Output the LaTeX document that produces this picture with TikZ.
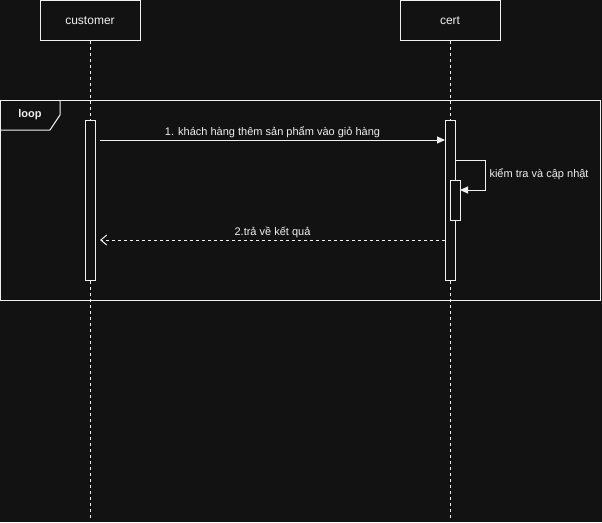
\documentclass[tikz,border=0pt]{standalone}
\usepackage{fontspec}
\setmainfont{Liberation Sans}
\usepackage{tikz}
\usetikzlibrary{positioning,arrows.meta}
\definecolor{bgdark}{HTML}{121212}
\definecolor{ink}{HTML}{F0F0F0}

\begin{document}
\begin{tikzpicture}[x=1pt, y=-1pt, line width=1pt, color=ink,
	head/.style={rectangle, draw, fill=bgdark, minimum width=100pt, minimum height=40pt, inner sep=0pt, outer sep=0pt, font=\fontsize{12}{14}\selectfont},
	bar/.style={rectangle, draw, fill=bgdark, minimum width=10pt, inner sep=0pt, outer sep=0pt},
	lifeline/.style={dash pattern=on 3pt off 3pt},
	msg/.style={-{Triangle[length=8pt,width=7pt]}},
	reply/.style={dash pattern=on 3pt off 3pt, -{Straight Barb[length=6pt,width=10pt]}},
	lbl/.style={font=\fontsize{11}{13}\selectfont, inner sep=2pt}]
	% background and page size
	\fill[bgdark] (0,0) rectangle (602,522);
	\useasboundingbox (0,0) rectangle (602,522);
	
	% lifeline heads
	\node (customer) [head] at (90,20.5) {customer};
	\node (cert) [head, right=260pt of customer] {cert};
	
	\coordinate (custend) at (90,520);
	\coordinate (certend) at (cert.south |- custend);
	\draw[lifeline] (customer.south) -- (custend);
	\draw[lifeline] (cert.south) -- (certend);
	
	% loop frame
	\draw (0.5,100) rectangle (600,300);
	\draw (0.5,130) -- (50,130) -- (60,115) -- (60,100);
	\node (looplbl) [lbl, font=\fontsize{11}{13}\selectfont\bfseries] at (30,115) {loop};
	
	% activation bars
	\node (actcust) [bar, minimum height=160pt, below=79.5pt of customer] {};
	\node (actcert) [bar, minimum height=160pt, below=79.5pt of cert] {};
	\node (actchk) [bar, minimum height=40pt] at (455,200) {};
	
	% messages
	\coordinate (m1a) at (100,140);
	\coordinate (m1b) at (actcert.west |- m1a);
	\path[msg] (m1a) edge node [lbl, above] {1. khách hàng thêm sản phẩm vào giỏ hàng} (m1b);
	
	\coordinate (selfa) at (actcert.east |- 0,160);
	\coordinate (selfturn) at (485,160);
	\coordinate (selfb) at (actchk.east |- 0,190);
	\draw[msg] (selfa) -- (selfturn) |- (selfb);
	\node (selflbl) [lbl, anchor=west] at (487,174) {kiểm tra và cập nhật};
	
	\coordinate (m2a) at (actcert.west |- 0,240);
	\coordinate (m2b) at (100,240);
	\path[reply] (m2a) edge node [lbl, above] {2.trả về kết quả} (m2b);
\end{tikzpicture}
\end{document}
